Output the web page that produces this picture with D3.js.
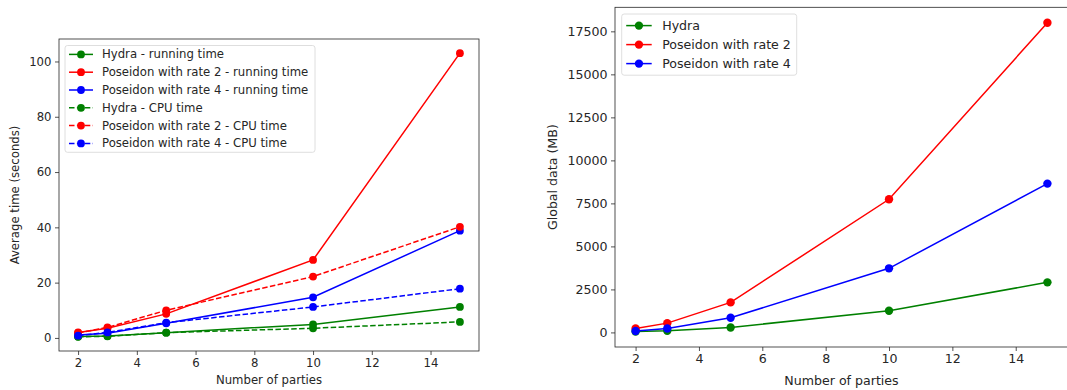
<!DOCTYPE html>
<html>
<head>
<meta charset="utf-8">
<script src="https://cdn.jsdelivr.net/npm/d3@7.9.0/dist/d3.min.js"></script>
<style>
  body { margin: 0; background: #fff; }
  svg { display: block; font-family: "DejaVu Sans", sans-serif; }
</style>
</head>
<body>
<svg id="chart" width="1067" height="390"></svg>
<script>
// number of parties
const parties = [2, 3, 5, 10, 15];

// left plot: average time (seconds)
const hydraRun = [0.5, 0.7, 1.9, 4.9, 11.2];
const pos2Run = [2.0, 3.5, 8.7, 28.2, 103];
const pos4Run = [1.1, 1.7, 5.3, 14.7, 38.8];
const hydraCpu = [0.4, 0.6, 1.9, 3.5, 5.8];
const pos2Cpu = [1.8, 3.8, 10.0, 22.2, 40.2];
const pos4Cpu = [0.8, 2.0, 5.5, 11.2, 17.8];

// right plot: global data (MB)
const hydraData = [50, 100, 290, 1260, 2910];
const pos2Data = [230, 540, 1745, 7740, 18000];
const pos4Data = [80, 230, 850, 3725, 8650];

const xTicks = [2, 4, 6, 8, 10, 12, 14];
const timeTicks = [0, 20, 40, 60, 80, 100];
const dataTicks = [0, 2500, 5000, 7500, 10000, 12500, 15000, 17500];

const GREEN = "#008000", RED = "#ff0000", BLUE = "#0000ff";
const INK = "#262626";

const svg = d3.select("#chart");

// matplotlib-like 5% padding
function padded(vals) {
  const [lo, hi] = d3.extent(vals);
  const m = (hi - lo) * 0.05;
  return [lo - m, hi + m];
}

function drawPanel(opts) {
  const { left, right, top, bottom, series, yTicks, yLabel, yLabelX, xLabelY, fs, r, legend } = opts;
  const g = svg.append("g");

  const x = d3.scaleLinear().domain(padded(parties)).range([left, right]);
  const allY = series.flatMap(s => s.values);
  const y = d3.scaleLinear().domain(padded(allY)).range([bottom, top]);

  const line = d3.line().x((d, i) => x(parties[i])).y(d => y(d));

  series.forEach(s => {
    g.append("path")
      .attr("d", line(s.values))
      .attr("fill", "none")
      .attr("stroke", s.color)
      .attr("stroke-width", 1.5)
      .attr("stroke-dasharray", s.dashed ? "5.5,2.4" : null);
    g.selectAll(null).data(s.values).enter().append("circle")
      .attr("cx", (d, i) => x(parties[i]))
      .attr("cy", d => y(d))
      .attr("r", r)
      .attr("fill", s.color);
  });

  // axes
  const xAxis = d3.axisBottom(x).tickValues(xTicks).tickSize(4).tickPadding(3.5);
  const yAxis = d3.axisLeft(y).tickValues(yTicks).tickSize(4).tickPadding(3.5).tickFormat(d3.format("d"));
  const gx = g.append("g").attr("transform", `translate(0,${bottom})`).call(xAxis);
  const gy = g.append("g").attr("transform", `translate(${left},0)`).call(yAxis);
  [gx, gy].forEach(a => {
    a.select(".domain").remove();
    a.selectAll("text").attr("font-size", fs).attr("fill", INK).attr("font-family", "DejaVu Sans");
    a.selectAll("line").attr("stroke", INK).attr("stroke-width", 0.8);
  });

  g.append("rect")
    .attr("x", left).attr("y", top)
    .attr("width", right - left).attr("height", bottom - top)
    .attr("fill", "none").attr("stroke", INK).attr("stroke-width", 0.8);

  g.append("text")
    .attr("x", (left + right) / 2).attr("y", xLabelY)
    .attr("text-anchor", "middle").attr("font-size", fs).attr("fill", INK)
    .text("Number of parties");

  g.append("text")
    .attr("transform", `translate(${yLabelX},${(top + bottom) / 2}) rotate(-90)`)
    .attr("text-anchor", "middle").attr("font-size", fs).attr("fill", INK)
    .text(yLabel);

  // legend
  const lg = g.append("g");
  lg.append("rect")
    .attr("x", legend.x).attr("y", legend.y)
    .attr("width", legend.w).attr("height", legend.step * series.length + legend.pad * 2)
    .attr("rx", 2.5)
    .attr("fill", "rgba(255,255,255,0.8)").attr("stroke", "#d5d5d5").attr("stroke-width", 0.8);
  series.forEach((s, i) => {
    const cy = legend.y + legend.pad + legend.step * (i + 0.5);
    lg.append("line")
      .attr("x1", legend.x + legend.hx0).attr("x2", legend.x + legend.hx1)
      .attr("y1", cy).attr("y2", cy)
      .attr("stroke", s.color).attr("stroke-width", 1.5)
      .attr("stroke-dasharray", s.dashed ? "5.5,2.4" : null);
    lg.append("circle")
      .attr("cx", legend.x + (legend.hx0 + legend.hx1) / 2).attr("cy", cy)
      .attr("r", r).attr("fill", s.color);
    lg.append("text")
      .attr("x", legend.x + legend.tx).attr("y", cy)
      .attr("dy", "0.35em").attr("font-size", fs).attr("fill", INK)
      .text(s.name);
  });
}

drawPanel({
  left: 59, right: 479, top: 39, bottom: 351,
  fs: 11.7, r: 3.9, yLabelX: 19, xLabelY: 384,
  yTicks: timeTicks, yLabel: "Average time (seconds)",
  series: [
    { name: "Hydra - running time", values: hydraRun, color: GREEN },
    { name: "Poseidon with rate 2 - running time", values: pos2Run, color: RED },
    { name: "Poseidon with rate 4 - running time", values: pos4Run, color: BLUE },
    { name: "Hydra - CPU time", values: hydraCpu, color: GREEN, dashed: true },
    { name: "Poseidon with rate 2 - CPU time", values: pos2Cpu, color: RED, dashed: true },
    { name: "Poseidon with rate 4 - CPU time", values: pos4Cpu, color: BLUE, dashed: true }
  ],
  legend: { x: 65, y: 45.5, w: 250, step: 17.8, pad: 0, hx0: 4, hx1: 28, tx: 37 }
});

drawPanel({
  left: 615, right: 1068, top: 7.3, bottom: 347,
  fs: 12.6, r: 4.2, yLabelX: 557, xLabelY: 384.5,
  yTicks: dataTicks, yLabel: "Global data (MB)",
  series: [
    { name: "Hydra", values: hydraData, color: GREEN },
    { name: "Poseidon with rate 2", values: pos2Data, color: RED },
    { name: "Poseidon with rate 4", values: pos4Data, color: BLUE }
  ],
  legend: { x: 621.7, y: 14, w: 175, step: 19, pad: 2.1, hx0: 4.5, hx1: 30, tx: 40.5 }
});
</script>
</body>
</html>
